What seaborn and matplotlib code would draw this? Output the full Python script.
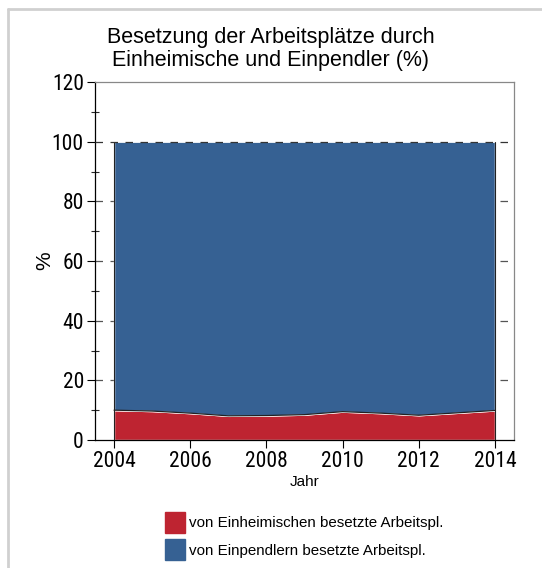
import matplotlib.pyplot as plt
import matplotlib.ticker as mticker
import matplotlib.patches as mpatches
import matplotlib.lines as mlines
import seaborn as sns

sns.set_theme(style="white")
plt.rcParams['font.family'] = ['Liberation Sans', 'DejaVu Sans']
plt.rcParams['text.color'] = 'black'
plt.rcParams['axes.labelcolor'] = 'black'

## Data
years = [2004, 2005, 2006, 2007, 2008, 2009, 2010, 2011, 2012, 2013, 2014]
einheimische = [10.0, 9.7, 9.0, 8.1, 8.2, 8.5, 9.5, 9.0, 8.3, 9.1, 9.9]
einpendler = [100 - v for v in einheimische]
labels = ["von Einheimischen besetzte Arbeitspl.", "von Einpendlern besetzte Arbeitspl."]
colors = ["#BE2431", "#366193"]
narrow = ['Roboto Condensed', 'Archivo Narrow', 'Liberation Sans', 'DejaVu Sans']

## Plot
fig = plt.figure(figsize=(5.42, 5.68), dpi=100)
ax = fig.add_axes([95 / 542, 1 - 440 / 568, 419 / 542, 358 / 568])

for y in [20, 40, 60, 80]:
	ax.axhline(y, color="#555555", linestyle=(0, (6, 6)), linewidth=0.9, zorder=0)
ax.axhline(100, color="#333333", linestyle=(0, (6, 6)), linewidth=0.9, zorder=4)

ax.stackplot(years, einheimische, einpendler, colors=colors, zorder=2)
sns.lineplot(x=years, y=einheimische, color="#222222", linewidth=0.9, ax=ax, zorder=3)
ax.plot([years[0], years[0]], [0, 100], color="#222222", linewidth=0.8, zorder=3)
ax.plot([years[-1], years[-1]], [0, 100], color="#222222", linewidth=0.8, zorder=3)

## Axes style
ax.set_xlim(2003.5, 2014.5)
ax.set_ylim(0, 120)
ax.xaxis.set_major_locator(mticker.MultipleLocator(2))
ax.xaxis.set_minor_locator(mticker.MultipleLocator(1))
ax.yaxis.set_major_locator(mticker.MultipleLocator(20))
ax.yaxis.set_minor_locator(mticker.MultipleLocator(10))
ax.tick_params(axis="both", which="major", direction="out", length=6, width=0.8,
			   labelsize=15.5, colors="black", bottom=True, left=True, pad=2)
ax.tick_params(axis="x", which="minor", direction="in", length=5, width=0.8, bottom=True)
ax.tick_params(axis="y", which="minor", direction="inout", length=6, width=0.8, left=True)
for lab in ax.get_xticklabels() + ax.get_yticklabels():
	lab.set_family(narrow)
for s in ["left", "bottom"]:
	ax.spines[s].set_color("black")
	ax.spines[s].set_linewidth(0.9)
for s in ["top", "right"]:
	ax.spines[s].set_color("#888888")
	ax.spines[s].set_linewidth(0.9)

ax.set_xlabel("Jahr", fontsize=11, labelpad=2)
ax.set_ylabel("%", fontsize=15)
ax.yaxis.set_label_coords(-0.097, 0.5)
fig.text(0.5, 1 - 49 / 568, "Besetzung der Arbeitsplätze durch\nEinheimische und Einpendler (%)",
		 ha="center", va="center", fontsize=15.5, linespacing=1.08)

## Legend
handles = [mpatches.Patch(color=c, label=l) for c, l in zip(colors, labels)]
fig.legend(handles=handles, loc="center", bbox_to_anchor=(304.5 / 542, 1 - 536 / 568), frameon=False,
		   fontsize=10.9, handlelength=1.3, handleheight=1.7, handletextpad=0.3,
		   labelspacing=0.45, borderpad=0)

## Figure border
fig.add_artist(mlines.Line2D([8 / 542, 8 / 542], [0, 1 - 9 / 568], transform=fig.transFigure,
							 color="#d0d0d0", linewidth=2))
fig.add_artist(mlines.Line2D([8 / 542, 1], [1 - 9 / 568, 1 - 9 / 568], transform=fig.transFigure,
							 color="#d0d0d0", linewidth=2))

fig.savefig("out.png", dpi=100)
